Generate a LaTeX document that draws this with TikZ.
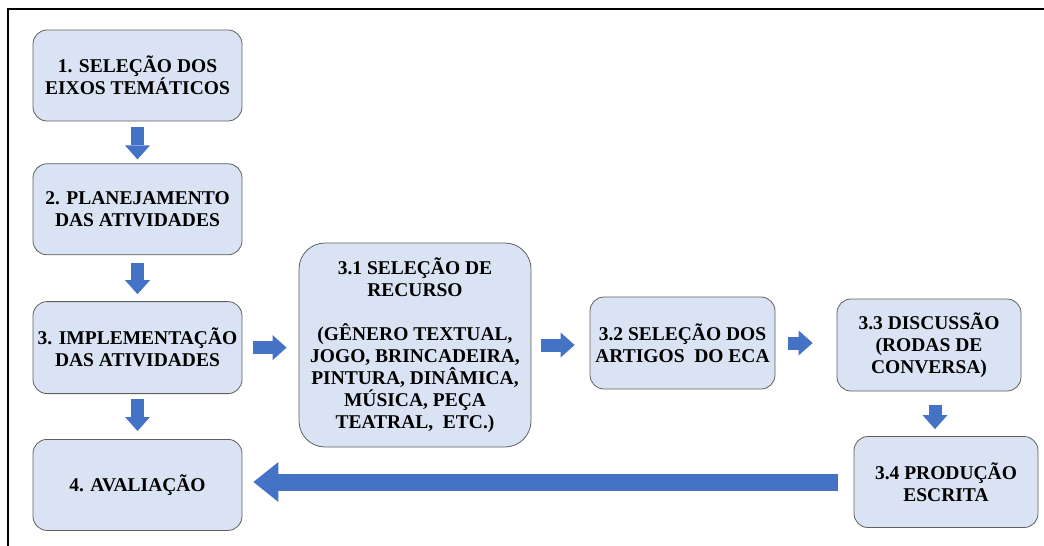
\documentclass[tikz,border=0pt]{standalone}
\usepackage{fontspec}
\setmainfont{Liberation Serif}
\usepackage{tikz}
\usetikzlibrary{arrows.meta, positioning}
\usepackage{xcolor}
\definecolor{boxfill}{HTML}{DAE3F3}
\definecolor{boxline}{HTML}{5F5F5F}
\definecolor{arrowblue}{HTML}{4472C4}

\begin{document}
\begin{tikzpicture}[x=1pt, y=-1pt,
  stage/.style={rectangle, rounded corners=14pt, draw=boxline,
    line width=0.8pt, fill=boxfill, align=center, inner sep=0pt,
    font=\bfseries\fontsize{19.5}{22}\selectfont},
  flow/.style={draw=arrowblue, line width=13pt,
    -{Triangle[width=25pt, length=14pt, line width=0pt]}},
  bigflow/.style={draw=arrowblue, line width=17pt,
    -{Triangle[width=40pt, length=25pt, line width=0pt]}}]
  \useasboundingbox (0,0) rectangle (1044,546);

  % Frame round the figure.
  \draw [line width=1.6pt] (8,546) -- (8,9) -- (1044,9);

  % Main steps, left column.
  \node [stage,
    minimum width=209pt,
    minimum height=91pt] (eixos) at (137.5,75.5) {1. SELEÇÃO DOS\\EIXOS TEMÁTICOS};
  \node [stage,
    minimum width=209pt,
    minimum height=91pt,
    below=42pt of eixos] (planejamento) {2. PLANEJAMENTO\\DAS ATIVIDADES};
  \node [stage,
    minimum width=209pt,
    minimum height=92pt,
    below=46pt of planejamento] (implementacao) {3. IMPLEMENTAÇÃO\\DAS ATIVIDADES};
  \node [stage,
    minimum width=209pt,
    minimum height=91pt,
    below=45pt of implementacao] (avaliacao) {4. AVALIAÇÃO};

  % Sub-steps of the implementation.
  \node [stage,
    rounded corners=26pt,
    minimum width=232pt,
    minimum height=204pt] (recurso) at (415,345) {3.1 SELEÇÃO DE\\RECURSO\\[22pt]
    (GÊNERO TEXTUAL,\\JOGO, BRINCADEIRA,\\PINTURA, DINÂMICA,\\MÚSICA, PEÇA\\TEATRAL,~ ETC.)};
  \node [stage,
    minimum width=185pt,
    minimum height=92pt] (artigos) at (682.5,343) {3.2 SELEÇÃO DOS\\ARTIGOS~ DO ECA};
  \node [stage,
    minimum width=184pt,
    minimum height=92pt] (discussao) at (929,345) {3.3 DISCUSSÃO\\(RODAS DE\\CONVERSA)};
  \node [stage,
    minimum width=184pt,
    minimum height=91pt] (producao) at (946,482) {3.4 PRODUÇÃO\\ESCRITA};

  % Arrows down the left column.
  \draw [flow, shorten <=6pt, shorten >=4pt] (eixos) -- (planejamento);
  \draw [flow, shorten <=8pt, shorten >=7pt] (planejamento) -- (implementacao);
  \draw [flow, shorten <=5pt, shorten >=8pt] (implementacao) -- (avaliacao);

  % Arrows along the sub-steps.
  \draw [flow, shorten <=11pt, shorten >=12pt] (implementacao.east) -- (implementacao.east -| recurso.west);
  \draw [flow, shorten <=10pt, shorten >=15pt] (recurso.east) -- (recurso.east -| artigos.west);
  \draw [flow, shorten <=13pt, shorten >=24pt] (artigos.east) -- (artigos.east -| discussao.west);
  \draw [flow, shorten <=14pt, shorten >=7pt] ([xshift=6pt]discussao.south) -- ([xshift=6pt]discussao.south |- producao.north);

  % Back to the evaluation.
  \draw [bigflow, shorten <=16pt, shorten >=11pt] (producao.west) -- (producao.west -| avaliacao.east);
\end{tikzpicture}
\end{document}
